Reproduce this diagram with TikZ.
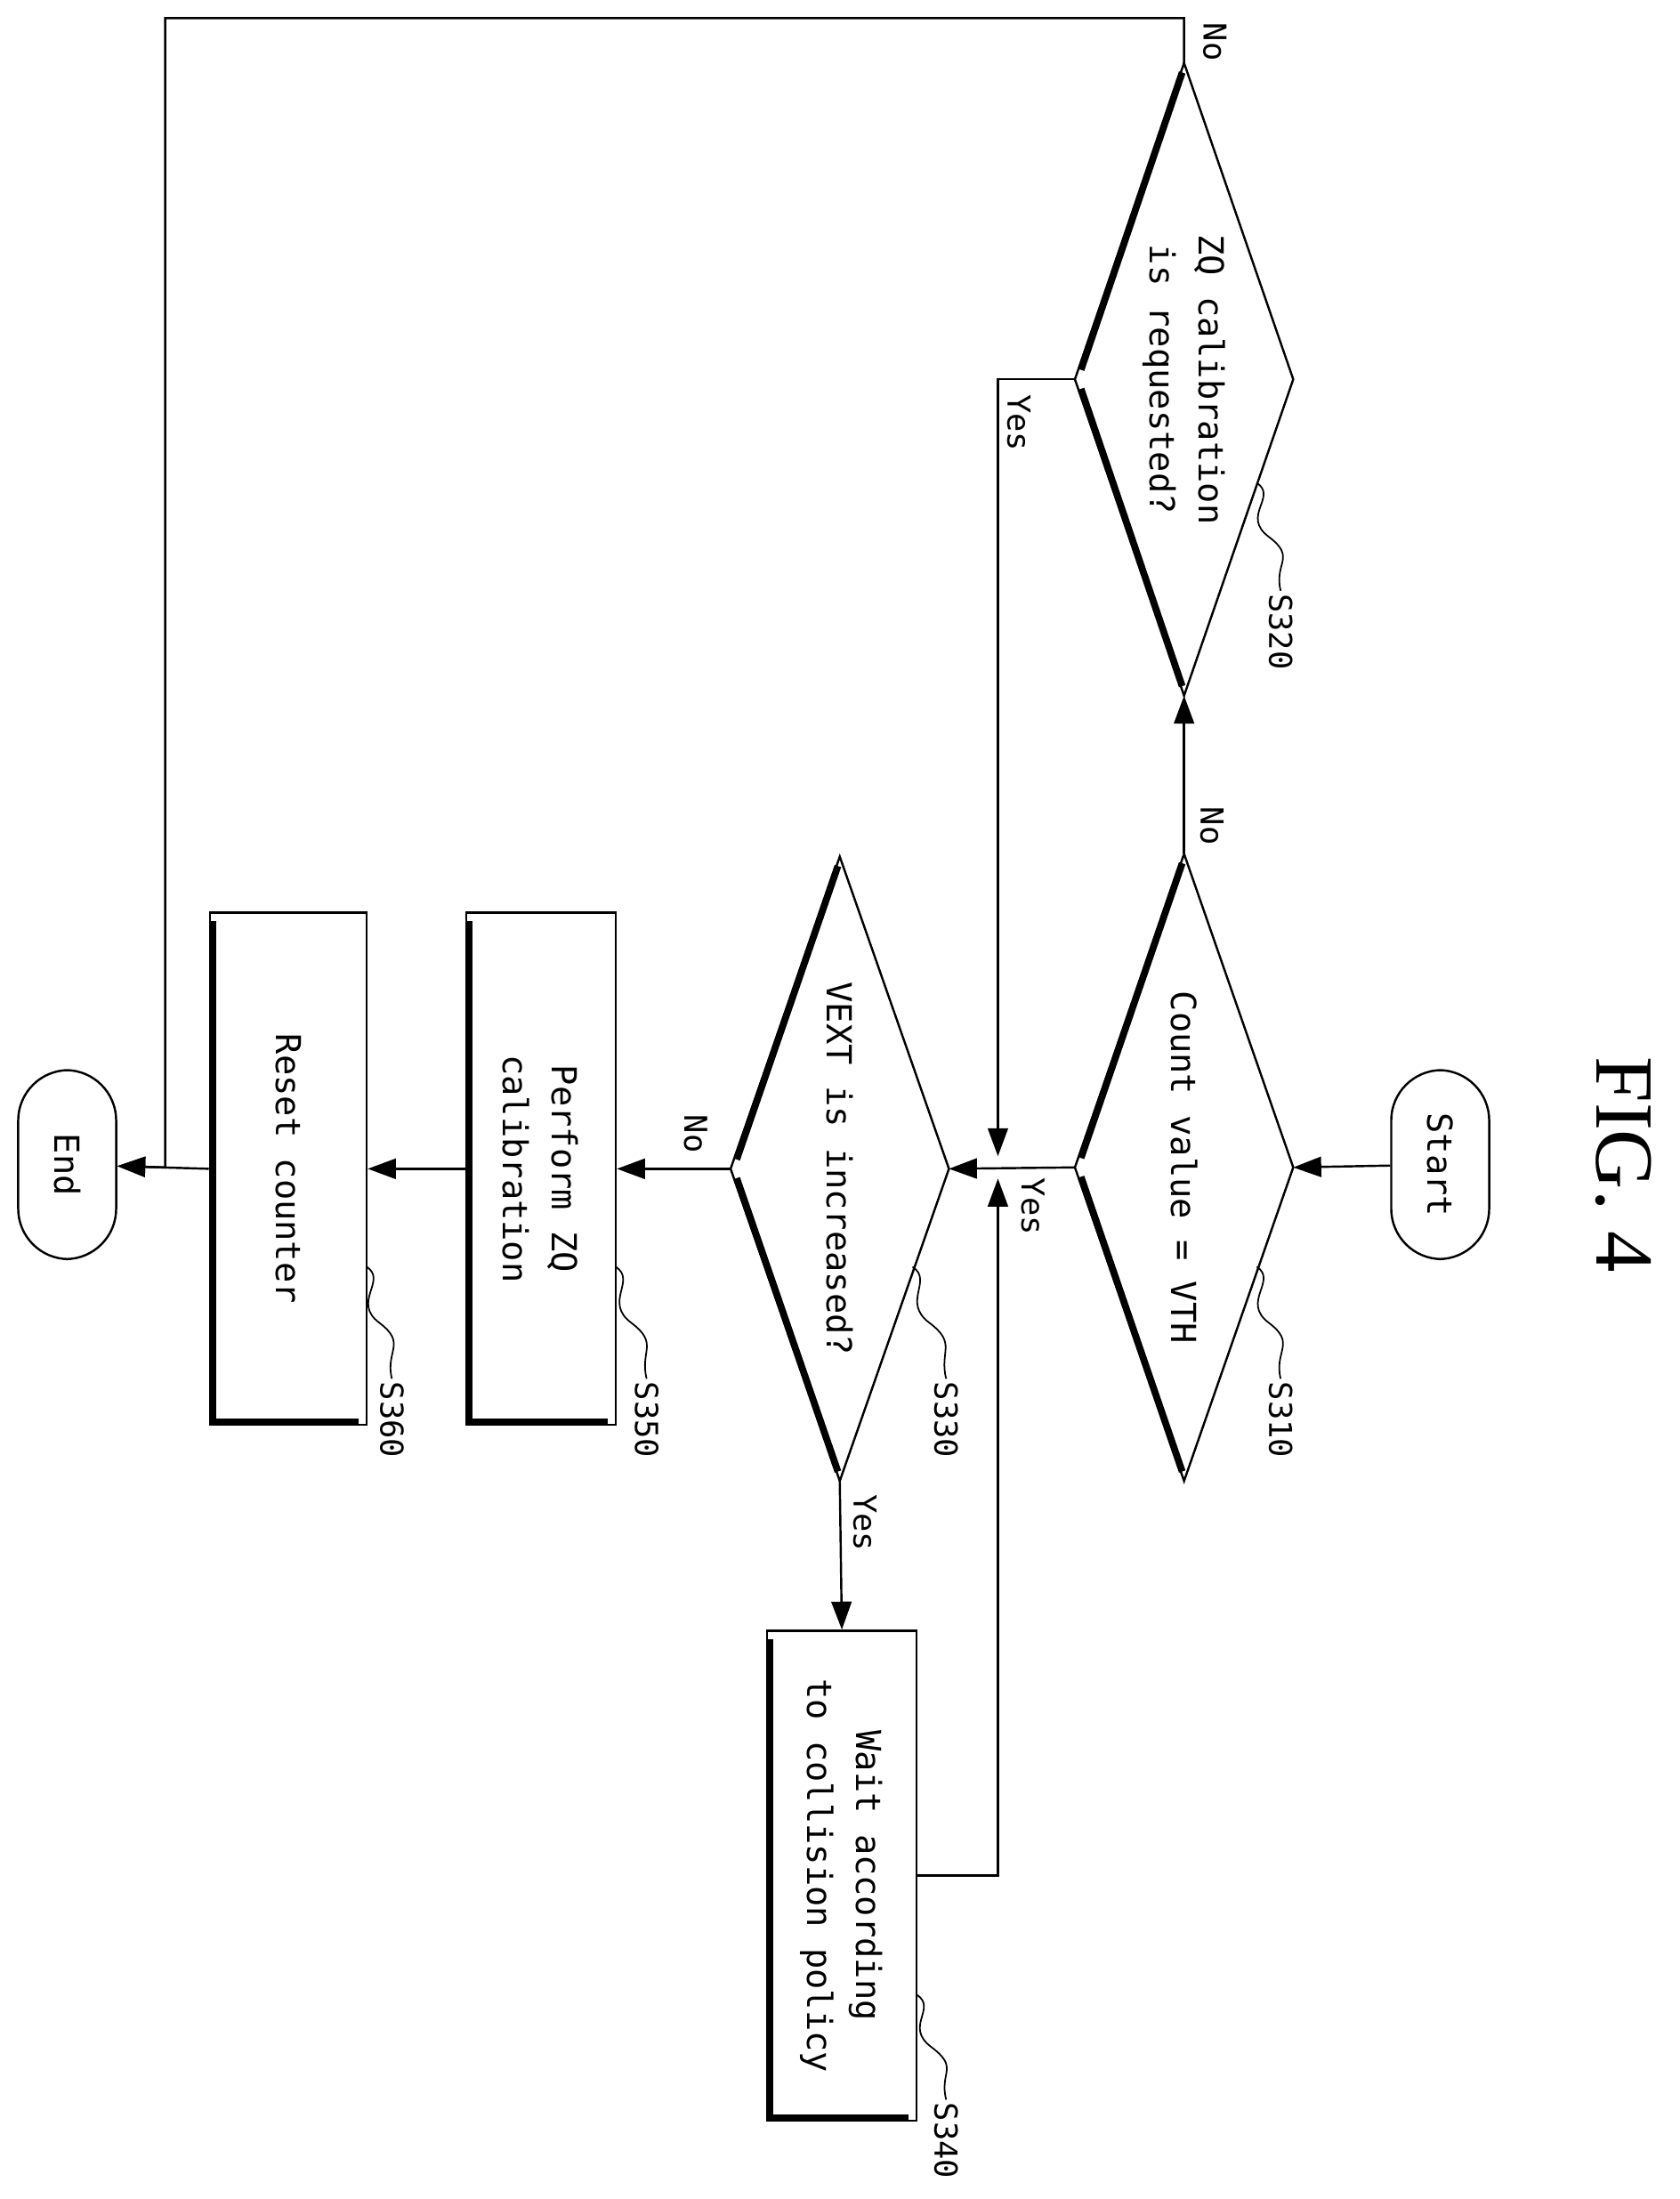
\documentclass[tikz,border=0pt]{standalone}
\usepackage{fontspec}
\setmainfont{DejaVu Sans Mono}
\newfontfamily\figfont{Liberation Serif}
\usetikzlibrary{arrows.meta,calc}
\begin{document}
\begin{tikzpicture}[x=0.25mm,y=-0.25mm,line width=1.1pt,
  txt/.style={rotate=-90,font=\fontsize{17.5}{25}\selectfont,align=center,inner sep=0},
  lab/.style={rotate=-90,font=\fontsize{16}{20}\selectfont,inner sep=1pt},
  arr/.style={-{Triangle[length=5mm,width=3.6mm]}},
  shadow/.style={line width=3.5pt},
  term/.style={draw,rounded corners=9mm,minimum width=17.5mm,minimum height=33.75mm,inner sep=0},
  box/.style={draw,inner sep=0}]
\useasboundingbox (0,0) rectangle (1200,1571);
\newcommand{\mydia}[5]{%
  \coordinate (#1t) at (#2,#3-#5); \coordinate (#1b) at (#2,#3+#5);
  \coordinate (#1l) at (#2-#4,#3); \coordinate (#1r) at (#2+#4,#3);
  \draw (#1t) -- (#1r) -- (#1b) -- (#1l) -- cycle;
  \draw[shadow] ($(#1l)!0.03!(#1t)+(2,0)$) -- ($(#1l)!0.97!(#1t)+(1,0)$);
  \draw[shadow] ($(#1l)!0.03!(#1b)+(2,0)$) -- ($(#1l)!0.97!(#1b)+(1,0)$);}
\newcommand{\mybox}[5]{%
  \node[box,minimum width={(#4-#2)*0.25mm},minimum height={(#5-#3)*0.25mm}] (#1) at ({(#2+#4)/2},{(#3+#5)/2}) {};
  \draw[shadow] (#2+2,#3+6) -- (#2+2,#5-2) -- (#4-6,#5-2);}
\newcommand{\sq}[2]{%
  \draw[line width=0.8pt] (#1) .. controls +(15,10) and +(-20,-15) .. ($(#1)!0.5!(#2)$) .. controls +(20,15) and +(-5,-20) .. (#2);}
\node[rotate=-90,font=\fontsize{42}{42}\selectfont\figfont] (fig) at (1160,832) {FIG. 4};
\node[term] (start) at (1029,832) {};
\node[txt] at (start) {Start};
\node[term] (end) at (48,832) {};
\node[txt] at (end) {End};
\mydia{a}{846}{834}{78}{224}
\node[txt] (ta) at (846,834) {Count value = VTH};
\mydia{b}{846}{271}{78}{226}
\node[txt] (tb) at (846,271) {ZQ calibration\\is requested?};
\mydia{c}{600}{835}{78}{223}
\node[txt] (tc) at (600,835) {VEXT is increased?};
\mybox{d}{548}{1165}{655}{1515}
\node[txt] (td) at (601,1340) {Wait according\\to collision policy};
\mybox{e}{333}{652}{440}{1018}
\node[txt] (te) at (386,835) {Perform ZQ\\calibration};
\mybox{f}{150}{652}{262}{1018}
\node[txt] (tf) at (206,835) {Reset counter};
\node[lab,anchor=west] (la) at (915,985) {S310};
\node[lab,anchor=west] (lb) at (915,422) {S320};
\node[lab,anchor=west] (lc) at (676,985) {S330};
\node[lab,anchor=west] (ld) at (676,1500) {S340};
\node[lab,anchor=west] (le) at (462,985) {S350};
\node[lab,anchor=west] (lf) at (280,985) {S360};
\coordinate (qa) at (898,905); \coordinate (qa2) at (915,985);
\coordinate (qb) at (898,345); \coordinate (qb2) at (915,422);
\coordinate (qc) at (652,905); \coordinate (qc2) at (676,985);
\coordinate (qd) at (655,1425); \coordinate (qd2) at (676,1500);
\coordinate (qe) at (440,905); \coordinate (qe2) at (462,985);
\coordinate (qf) at (262,905); \coordinate (qf2) at (280,985);
\sq{qa}{qa2} \sq{qb}{qb2} \sq{qc}{qc2} \sq{qd}{qd2} \sq{qe}{qe2} \sq{qf}{qf2}
\draw[arr] (start) -- (ar);
\draw[arr] (at) -- (bb);
\node[lab] at (866,590) {No};
\draw[arr] (bt) -- (846,13) -- (118,13) -- (118,834) -- (end);
\node[lab] at (868,30) {No};
\draw[arr] (bl) -- (713,271) -- (713,826);
\node[lab] at (728,302) {Yes};
\draw[arr] (al) -- (cr);
\node[lab] at (738,862) {Yes};
\draw[arr] (d.east |- 0,1340) -- (713,1340) -- (713,842);
\draw[arr] (cl) -- (e.east);
\node[lab] at (497,810) {No};
\draw[arr] (cb) -- (d.north);
\node[lab] at (618,1088) {Yes};
\draw[arr] (e.west) -- (f.east);
\draw[arr] (f.west) -- (end);
\end{tikzpicture}
\end{document}
